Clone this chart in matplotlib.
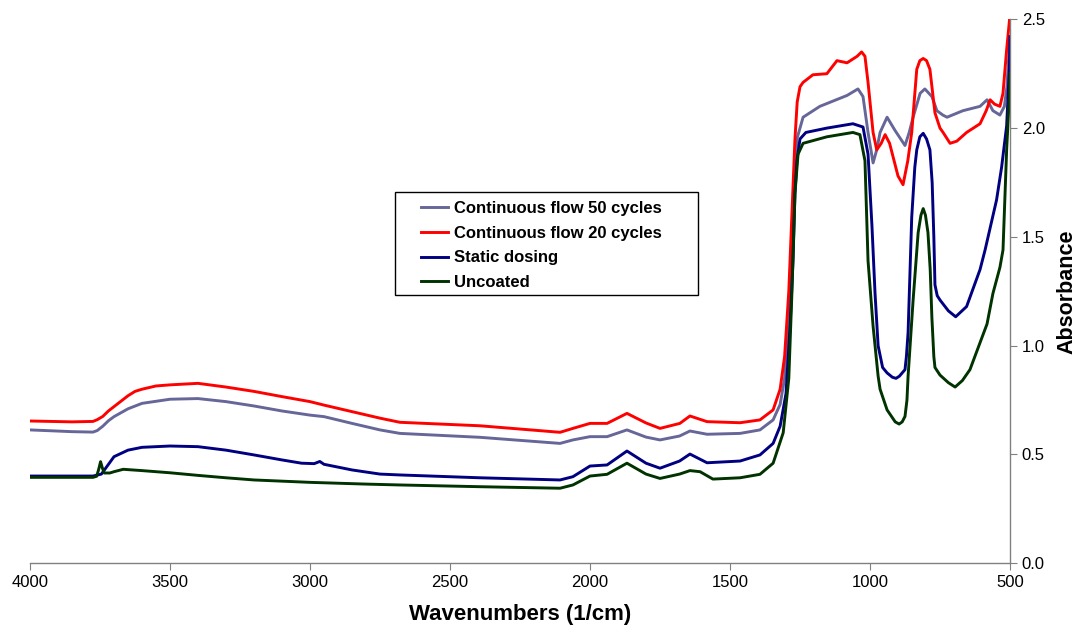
import numpy as np
import matplotlib
matplotlib.use("Agg")
import matplotlib.pyplot as plt
from matplotlib.patches import Rectangle

plt.rcParams['font.family'] = ['Liberation Sans', 'DejaVu Sans']

# Continuous flow 50 cycles
wn_50 = [4000, 3850, 3775, 3760, 3740, 3720, 3700, 3650, 3600, 3500, 3400, 3300, 3200, 3100, 3000, 2950,
         2850, 2750, 2679, 2393, 2107, 2061, 2000, 1939, 1868, 1800, 1750, 1680, 1643, 1582,
         1464, 1393, 1346, 1321, 1305, 1290, 1279, 1268, 1261, 1250, 1239, 1179, 1082, 1043,
         1025, 1007, 989, 976, 964, 939, 911, 875, 860, 846, 821, 804, 779, 761, 740, 725,
         668, 607, 582, 561, 536, 520, 511, 500]
ab_50 = [0.613, 0.605, 0.603, 0.61, 0.63, 0.655, 0.674, 0.71, 0.735, 0.754, 0.757, 0.743, 0.723, 0.70, 0.681, 0.674,
         0.643, 0.613, 0.597, 0.579, 0.551, 0.567, 0.582, 0.582, 0.613, 0.58, 0.567, 0.585, 0.608, 0.593,
         0.597, 0.613, 0.659, 0.73, 0.85, 1.15, 1.5, 1.8, 1.95, 2.00, 2.05, 2.10, 2.15, 2.18,
         2.145, 1.98, 1.84, 1.90, 1.98, 2.05, 1.99, 1.92, 1.98, 2.05, 2.16, 2.18, 2.145, 2.08, 2.06, 2.05,
         2.08, 2.10, 2.13, 2.08, 2.06, 2.10, 2.19, 2.42]

# Continuous flow 20 cycles
wn_20 = [4000, 3850, 3775, 3760, 3740, 3720, 3700, 3675, 3650, 3625, 3600, 3550, 3500, 3400, 3300, 3200,
         3100, 3000, 2950, 2850, 2750, 2679, 2393, 2107, 2061, 2000, 1939, 1868, 1800, 1750, 1679,
         1643, 1582, 1464, 1393, 1346, 1321, 1305, 1290, 1279, 1268, 1260, 1250, 1239, 1204, 1154,
         1118, 1082, 1046, 1030, 1018, 1007, 989, 976, 960, 946, 930, 918, 900, 882, 865, 851, 833,
         822, 810, 798, 786, 768, 750, 739, 714, 690, 655, 607, 585, 571, 555, 536, 525, 512, 500]
ab_20 = [0.654, 0.650, 0.652, 0.66, 0.675, 0.70, 0.72, 0.745, 0.77, 0.79, 0.80, 0.815, 0.82, 0.827, 0.81, 0.79,
         0.766, 0.743, 0.727, 0.697, 0.667, 0.648, 0.632, 0.602, 0.62, 0.643, 0.643, 0.689, 0.645, 0.62, 0.643,
         0.677, 0.651, 0.646, 0.659, 0.705, 0.80, 0.95, 1.25, 1.6, 1.95, 2.12, 2.19, 2.21, 2.245, 2.25,
         2.31, 2.30, 2.33, 2.35, 2.33, 2.21, 1.98, 1.90, 1.93, 1.97, 1.93, 1.87, 1.78, 1.74, 1.85, 1.98, 2.27,
         2.31, 2.32, 2.31, 2.27, 2.07, 2.00, 1.98, 1.93, 1.94, 1.98, 2.02, 2.08, 2.13, 2.11, 2.10, 2.16, 2.36, 2.52]

# Static dosing
wn_st = [4000, 3850, 3775, 3745, 3700, 3650, 3600, 3500, 3400, 3300, 3200, 3100, 3030, 2985,
         2965, 2950, 2850, 2750, 2679, 2393, 2107, 2061, 2000, 1939, 1868, 1800, 1750, 1680,
         1643, 1582, 1464, 1393, 1346, 1321, 1300, 1285, 1275, 1268, 1261, 1250, 1229, 1154,
         1061, 1025, 1007, 993, 982, 971, 955, 939, 920, 907, 895, 885, 875, 870, 864, 851, 840, 833,
         822, 810, 798, 786, 778, 772, 768, 760, 750, 720, 694, 655, 607, 589, 548, 530, 512, 502, 500]
ab_st = [0.401, 0.401, 0.401, 0.41, 0.49, 0.52, 0.533, 0.539, 0.536, 0.52, 0.498, 0.475, 0.46, 0.458,
         0.468, 0.455, 0.429, 0.41, 0.406, 0.393, 0.383, 0.398, 0.447, 0.452, 0.516, 0.46, 0.437, 0.47,
         0.502, 0.462, 0.47, 0.498, 0.551, 0.63, 0.78, 1.1, 1.39, 1.7, 1.85, 1.95, 1.98, 2.00,
         2.02, 2.005, 1.88, 1.55, 1.24, 1.00, 0.90, 0.875, 0.855, 0.85, 0.86, 0.875, 0.89, 0.95, 1.06, 1.59, 1.82, 1.90,
         1.96, 1.976, 1.95, 1.90, 1.75, 1.50, 1.28, 1.23, 1.21, 1.16, 1.133, 1.18, 1.35, 1.44, 1.67, 1.82, 2.01, 2.28, 2.42]

# Uncoated
wn_un = [4000, 3850, 3775, 3762, 3755, 3748, 3742, 3735, 3715, 3700, 3667, 3600, 3500, 3400,
         3300, 3200, 3000, 2800, 2679, 2393, 2107, 2061, 2000, 1939, 1868, 1800, 1750, 1680,
         1643, 1607, 1561, 1464, 1393, 1346, 1310, 1290, 1279, 1268, 1257, 1239, 1154, 1061,
         1036, 1018, 1007, 989, 971, 964, 939, 910, 896, 885, 875, 868, 864, 846, 828, 818, 810, 802, 793,
         785, 779, 772, 768, 750, 720, 696, 670, 643, 582, 561, 536, 525, 512, 503, 500]
ab_un = [0.395, 0.395, 0.395, 0.40, 0.43, 0.467, 0.44, 0.415, 0.415, 0.421, 0.432, 0.426, 0.416, 0.404,
         0.393, 0.383, 0.372, 0.364, 0.36, 0.352, 0.345, 0.36, 0.401, 0.409, 0.46, 0.41, 0.39, 0.41,
         0.426, 0.421, 0.387, 0.393, 0.409, 0.46, 0.60, 0.85, 1.24, 1.70, 1.88, 1.93, 1.96, 1.98,
         1.97, 1.85, 1.39, 1.09, 0.86, 0.80, 0.705, 0.65, 0.64, 0.65, 0.675, 0.75, 0.86, 1.21, 1.52, 1.60, 1.63, 1.60, 1.52,
         1.35, 1.13, 0.95, 0.90, 0.865, 0.83, 0.81, 0.84, 0.89, 1.10, 1.24, 1.36, 1.44, 1.90, 2.13, 2.25]

labels = ['Continuous flow 50 cycles', 'Continuous flow 20 cycles', 'Static dosing', 'Uncoated']
colors = ['#666699', '#FF0000', '#000080', '#003300']
series = [(wn_50, ab_50), (wn_20, ab_20), (wn_st, ab_st), (wn_un, ab_un)]

fig = plt.figure(figsize=(10.75, 6.31), dpi=100)
ax = fig.add_axes([30/1075, 1 - 563.3/631, 980/1075, (563.3 - 19.3)/631])

for (x, y), lab, c in zip(series, labels, colors):
    ax.plot(x, y, color=c, lw=2.1, label=lab, solid_joinstyle='round')

ax.set_xlim(4000, 500)
ax.set_ylim(0, 2.5)
ax.set_xticks(np.arange(4000, 499, -500))
ax.set_yticks(np.arange(0, 2.51, 0.5))
ax.set_yticklabels(['%.1f' % v for v in np.arange(0, 2.51, 0.5)])
ax.yaxis.tick_right()
ax.yaxis.set_label_position('right')
for s in ['left', 'top']:
    ax.spines[s].set_visible(False)
for s in ['right', 'bottom']:
    ax.spines[s].set_color('#808080')
    ax.spines[s].set_linewidth(1)
ax.tick_params(axis='both', colors='#808080', labelcolor='black', labelsize=12, length=5, direction='out')
ax.set_xlabel('Wavenumbers (1/cm)', fontsize=16, fontweight='bold', labelpad=10)
ax.set_ylabel('Absorbance', fontsize=15.5, fontweight='bold', labelpad=8)

leg = ax.legend(loc='upper left', bbox_to_anchor=(421/1075, 1 - 201/631), bbox_transform=fig.transFigure,
                frameon=False, prop={'weight': 'bold', 'size': 12}, handlelength=1.6,
                handletextpad=0.4, labelspacing=0.58, borderaxespad=0, borderpad=0)
fig.add_artist(Rectangle((395/1075, 1 - 295/631), 303/1075, 103/631, transform=fig.transFigure,
                         fill=False, ec='black', lw=1))

plt.savefig('out.png', dpi=100)
